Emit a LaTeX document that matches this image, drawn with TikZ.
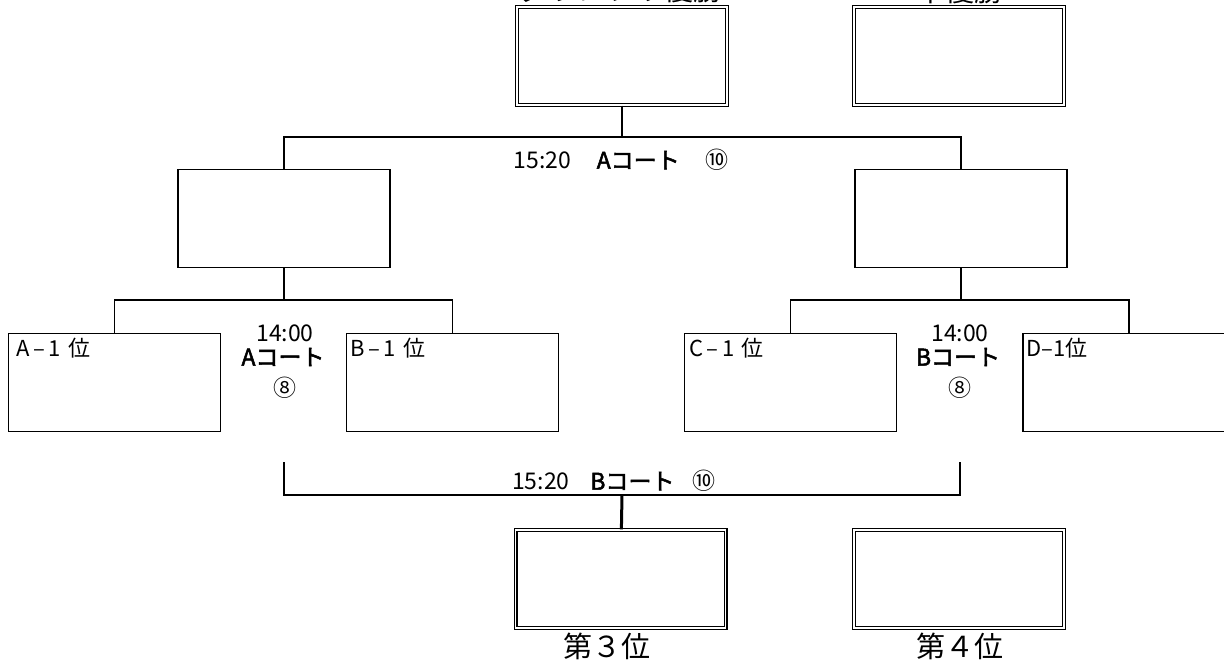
\documentclass[tikz,border=0pt]{standalone}
\usepackage{fontspec}
\setmainfont{Noto Sans CJK JP}[AutoFakeBold=2.2]
\usetikzlibrary{positioning}

\begin{document}
\begin{tikzpicture}[
        x=0.5pt, y=-0.5pt,
        every node/.style={inner sep=0pt, font=\fontsize{11.5}{13}\selectfont},
        line/.style={line width=0.75pt},
        heavy/.style={line width=1.5pt},
        frame/.style={draw, line width=0.75pt, minimum width=106pt, minimum height=49pt},
        prize/.style={draw, line width=0.55pt, double, double distance=0.9pt,
                      minimum width=105pt, minimum height=49pt},
        title/.style={font=\fontsize{14.5}{16}\selectfont},
        slot/.style={anchor=north west, font=\fontsize{11}{13}\selectfont}
    ]

    \useasboundingbox (0,0) rectangle (1224,663);

    \node[prize] (champ) at (622,56) {};
    \node[prize] (second) at (959,56) {};
    \node[title] (champlbl) at (621,-10) {グランプリ優勝};
    \node[title] (secondlbl) at (960,-10) {準優勝};

    \node[frame] (semiL) at (284,218.5) {};
    \node[frame] (semiR) at (961,218.5) {};

    \node[frame] (a1) at (114.5,382.5) {};
    \node[frame] (b1) at (452.5,382.5) {};
    \node[frame] (c1) at (790.5,382.5) {};
    \node[frame] (d1) at (1129,382.5) {};

    \node[slot] (a1lbl) at ([shift={(8,5)}]a1.north west) {A\,–\,1\,\,位};
    \node[slot] (b1lbl) at ([shift={(4,5)}]b1.north west) {B\,–\,1\,\,位};
    \node[slot] (c1lbl) at ([shift={(5,5)}]c1.north west) {C\,–\,1\,\,位};
    \node[slot] (d1lbl) at ([shift={(4,5)}]d1.north west) {D–1位};

    \node[prize] (third) at (620.5,579) {};
    \node[prize] (fourth) at (959,579) {};
    \node[title] (thirdlbl) at (607,646) {第３位};
    \node[title] (fourthlbl) at (960,646) {第４位};

    \coordinate (fjoin) at (622,137);
    \coordinate (ljoin) at (284,300);
    \coordinate (rjoin) at (961,300);
    \coordinate (lloser) at (284,462);
    \coordinate (rloser) at (960,462);
    \coordinate (bjoin) at (622,495);

    \draw[line] (semiL.north) |- (fjoin) -| (semiR.north);
    \draw[line] (champ) -- (fjoin);
    \draw[line] (a1.north) |- (ljoin) -| (b1.north);
    \draw[line] (semiL) -- (ljoin);
    \draw[line] (c1.north) |- (rjoin) -| (d1.north);
    \draw[line] (semiR) -- (rjoin);
    \draw[line] (lloser) |- (bjoin) -| (rloser);
    \draw[heavy] (bjoin) -- (third);

    \node (ftime) at (621,160) {15:20\hspace{1.1em}\textbf{Aコート}\hspace{1.1em}⑩};
    \node (btime) at (614,481) {15:20\hspace{0.9em}\textbf{Bコート}\hspace{0.8em}⑩};

    \node (ltime) at (285,333) {14:00};
    \node (lcourt) at (283,357) {\textbf{Aコート}};
    \node (lno) at (285,388) {⑧};
    \node (rtime) at (960,333) {14:00};
    \node (rcourt) at (958,357) {\textbf{Bコート}};
    \node (rno) at (960,388) {⑧};
\end{tikzpicture}
\end{document}
